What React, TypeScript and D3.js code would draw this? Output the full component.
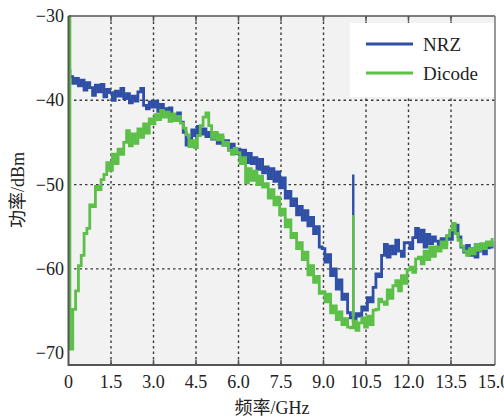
import React, { useRef, useEffect } from 'react';
import * as d3 from 'd3';

// frequency grid, 0.1 GHz steps
const freqs: number[] = d3.range(0, 151).map(i => i / 10);

const nrz: number[] = [
  -36.5, -37.2, -38.0, -37.4, -38.3, -37.6, -38.8, -37.9, -38.5, -39.4,
  -38.2, -39.0, -38.1, -39.6, -38.7, -39.1, -40.0, -38.9, -39.5, -38.6,
  -39.8, -39.2, -40.3, -39.5, -40.1, -39.0, -38.6, -40.6, -41.0, -40.2,
  -40.8, -40.1, -41.3, -40.5, -41.0, -41.6, -40.9, -41.8, -42.2, -41.5,
  -42.6, -43.8, -45.3, -44.6, -43.5, -44.2, -43.1, -44.0, -43.4, -44.3,
  -43.8, -44.6, -44.0, -45.1, -44.4, -45.3, -44.8, -45.9, -45.2, -46.3,
  -45.8, -46.9, -45.9, -47.4, -46.3, -47.5, -46.8, -48.2, -47.0, -48.6,
  -47.9, -49.3, -48.1, -49.6, -48.5, -50.4, -49.2, -51.6, -50.8, -52.5,
  -51.7, -53.6, -52.6, -54.2, -53.1, -54.9, -53.9, -55.8, -55.0, -57.4,
  -57.6, -59.2, -58.3, -60.8, -60.0, -62.4, -61.3, -63.6, -63.0, -65.2,
  -65.8, -66.2, -65.3, -65.6, -64.5, -64.9, -63.4, -63.9, -62.2, -60.6,
  -60.9, -58.4, -57.1, -58.6, -57.3, -58.2, -56.6, -57.9, -58.5, -56.9,
  -56.9, -57.6, -56.3, -55.2, -56.8, -55.4, -57.4, -55.9, -57.0, -56.2,
  -56.7, -57.3, -56.4, -57.0, -56.1, -56.5, -55.6, -54.8, -56.2, -57.4,
  -58.0, -57.2, -58.4, -57.6, -58.6, -57.9, -57.1, -58.2, -57.5, -56.9,
  -57.4
];

const dicode: number[] = [
  -30.0, -69.5, -64.8, -62.6, -59.6, -58.4, -55.8, -55.2, -52.4, -52.6,
  -50.2, -50.6, -49.4, -48.8, -47.4, -48.3, -46.4, -47.5, -45.8, -46.4,
  -45.0, -43.6, -45.4, -44.0, -45.1, -43.4, -44.4, -42.8, -43.9, -42.2,
  -42.8, -41.7, -42.3, -41.2, -42.0, -41.4, -42.5, -41.6, -42.4, -41.9,
  -42.7, -43.3, -44.1, -45.5, -44.8, -45.6, -44.2, -43.0, -42.0, -41.5,
  -43.0, -44.5, -43.8, -44.7, -44.1, -45.3, -45.0, -45.9, -46.4, -45.7,
  -46.2, -47.5, -46.8, -49.8, -48.1, -49.5, -48.4, -50.0, -49.0, -50.3,
  -49.9, -51.6, -50.6, -52.4, -51.5, -53.6, -52.9, -55.0, -54.2, -56.3,
  -55.8, -57.6, -56.9, -58.9, -58.0, -60.7, -59.6, -61.6, -60.9, -62.9,
  -62.7, -63.9, -63.0, -65.2, -64.4, -66.0, -65.1, -66.6, -65.9, -66.9,
  -67.0, -66.2, -67.3, -66.4, -65.8, -66.9, -65.6, -66.6, -64.9, -64.8,
  -63.6, -63.9, -64.2, -62.5, -63.5, -62.0, -61.4, -62.6, -60.8, -61.7,
  -60.1, -59.8, -60.4, -58.8, -58.6, -59.4, -57.9, -58.9, -57.4, -58.5,
  -57.4, -57.9, -56.8, -57.5, -56.1, -55.4, -54.6, -55.8, -56.6, -57.3,
  -57.9, -58.4, -57.6, -58.2, -57.1, -57.8, -57.0, -57.6, -56.8, -57.2,
  -56.5
];

// narrow spike near 10 GHz
const spikeFreq = 10.05;
const nrzSpikeTop = -48.8;
const dicodeSpikeTop = -53.6;

const xTicks = [0, 1.5, 3.0, 4.5, 6.0, 7.5, 9.0, 10.5, 12.0, 13.5, 15.0];
const yTicks = [-70, -60, -50, -40, -30];

const seriesNames = ['NRZ', 'Dicode'];
const colors = ['#2f4fa6', '#5cbf48'];

const App = () => {
  const svgRef = useRef<SVGSVGElement>(null);

  useEffect(() => {
    const svg = d3.select(svgRef.current);
    svg.selectAll('*').remove();

    const width = 504;
    const height = 420;
    const left = 68.5, right = 495, top = 16, bottom = 365;

    const x = d3.scaleLinear().domain([0, 15]).range([left, 493.5]);
    const y = d3.scaleLinear().domain([-71.4, -30]).range([bottom, top]);

    const serif = '"Liberation Serif", "Times New Roman", serif';
    const cjk = '"Liberation Serif", "Noto Sans CJK SC", serif';

    svg.append('rect').attr('width', width).attr('height', height).attr('fill', '#fff');

    // plot area
    svg.append('rect')
      .attr('x', left).attr('y', top)
      .attr('width', right - left).attr('height', bottom - top)
      .attr('fill', '#f2f2f2');

    svg.append('defs').append('clipPath').attr('id', 'plotclip')
      .append('rect')
      .attr('x', left).attr('y', top - 1)
      .attr('width', right - left).attr('height', bottom - top + 1);

    // grid
    const grid = svg.append('g');
    grid.selectAll('.vg')
      .data(xTicks.filter(t => t > 0 && t < 15))
      .enter().append('line')
      .attr('x1', d => x(d)).attr('x2', d => x(d))
      .attr('y1', top).attr('y2', bottom)
      .attr('stroke', '#3a3a3a').attr('stroke-width', 1.4)
      .attr('stroke-dasharray', '2.5,3');
    grid.selectAll('.hg')
      .data(yTicks.filter(t => t > -70 && t < -30))
      .enter().append('line')
      .attr('x1', left).attr('x2', right)
      .attr('y1', d => y(d)).attr('y2', d => y(d))
      .attr('stroke', '#3a3a3a').attr('stroke-width', 1.4)
      .attr('stroke-dasharray', '2.5,3');

    // curves
    const line = d3.line<number>()
      .x((d, i) => x(freqs[i]))
      .y(d => y(d))
      .curve(d3.curveStep);

    const plot = svg.append('g').attr('clip-path', 'url(#plotclip)');
    plot.append('path')
      .datum(nrz)
      .attr('d', line)
      .attr('fill', 'none')
      .attr('stroke', colors[0])
      .attr('stroke-width', 2.8);
    plot.append('line')
      .attr('x1', x(spikeFreq)).attr('x2', x(spikeFreq))
      .attr('y1', y(nrzSpikeTop)).attr('y2', y(-65.8))
      .attr('stroke', colors[0]).attr('stroke-width', 2.4);
    plot.append('path')
      .datum(dicode)
      .attr('d', line)
      .attr('fill', 'none')
      .attr('stroke', colors[1])
      .attr('stroke-width', 2.8);
    plot.append('line')
      .attr('x1', x(spikeFreq)).attr('x2', x(spikeFreq))
      .attr('y1', y(dicodeSpikeTop)).attr('y2', y(-66.6))
      .attr('stroke', colors[1]).attr('stroke-width', 2.4);

    // frame
    svg.append('line').attr('x1', left).attr('x2', right).attr('y1', top).attr('y2', top)
      .attr('stroke', '#555').attr('stroke-width', 1.5);
    svg.append('line').attr('x1', right).attr('x2', right).attr('y1', top).attr('y2', bottom)
      .attr('stroke', '#777').attr('stroke-width', 1.5);
    svg.append('line').attr('x1', left).attr('x2', left).attr('y1', top).attr('y2', bottom + 1)
      .attr('stroke', '#555').attr('stroke-width', 2);
    svg.append('line').attr('x1', left).attr('x2', right).attr('y1', bottom).attr('y2', bottom)
      .attr('stroke', '#555').attr('stroke-width', 2);

    // inner ticks top/bottom
    svg.selectAll('.tt')
      .data(xTicks.filter(t => t > 0 && t < 15))
      .enter().append('line')
      .attr('x1', d => x(d)).attr('x2', d => x(d))
      .attr('y1', top).attr('y2', top + 5)
      .attr('stroke', '#555').attr('stroke-width', 1.5);
    svg.selectAll('.bt')
      .data(xTicks.filter(t => t > 0 && t < 15))
      .enter().append('line')
      .attr('x1', d => x(d)).attr('x2', d => x(d))
      .attr('y1', bottom).attr('y2', bottom - 5)
      .attr('stroke', '#555').attr('stroke-width', 1.5);

    // tick labels
    svg.selectAll('.xl')
      .data(xTicks)
      .enter().append('text')
      .attr('x', d => x(d))
      .attr('y', 388)
      .attr('text-anchor', 'middle')
      .style('font-family', serif)
      .style('font-size', '18px')
      .attr('fill', '#222')
      .text(d => (d === 0 ? '0' : d.toFixed(1)));

    svg.selectAll('.yl')
      .data(yTicks)
      .enter().append('text')
      .attr('x', 64)
      .attr('y', d => y(d) + 6)
      .attr('text-anchor', 'end')
      .style('font-family', serif)
      .style('font-size', '18px')
      .attr('fill', '#222')
      .text(d => '\u2212' + Math.abs(d));

    // axis titles
    svg.append('text')
      .attr('x', 272).attr('y', 414)
      .attr('text-anchor', 'middle')
      .style('font-family', cjk)
      .style('font-size', '18px')
      .attr('fill', '#222')
      .text('频率/GHz');
    svg.append('text')
      .attr('transform', 'translate(24,190) rotate(-90)')
      .attr('text-anchor', 'middle')
      .style('font-family', cjk)
      .style('font-size', '18px')
      .attr('fill', '#222')
      .text('功率/dBm');

    // legend
    const lg = svg.append('g');
    lg.append('rect')
      .attr('x', 350).attr('y', 23).attr('width', 144).attr('height', 74)
      .attr('fill', '#fff');
    seriesNames.forEach((name, i) => {
      const ly = 44 + i * 29;
      lg.append('line')
        .attr('x1', 366).attr('x2', 413)
        .attr('y1', ly).attr('y2', ly)
        .attr('stroke', colors[i]).attr('stroke-width', 3);
      lg.append('text')
        .attr('x', 423).attr('y', ly + 7)
        .style('font-family', serif)
        .style('font-size', '19px')
        .attr('fill', '#222')
        .text(name);
    });
  }, []);

  return (
    <svg ref={svgRef} width={504} height={420}
      style={{ position: 'absolute', left: 0, top: 0, display: 'block' }}></svg>
  );
};

export default App;
